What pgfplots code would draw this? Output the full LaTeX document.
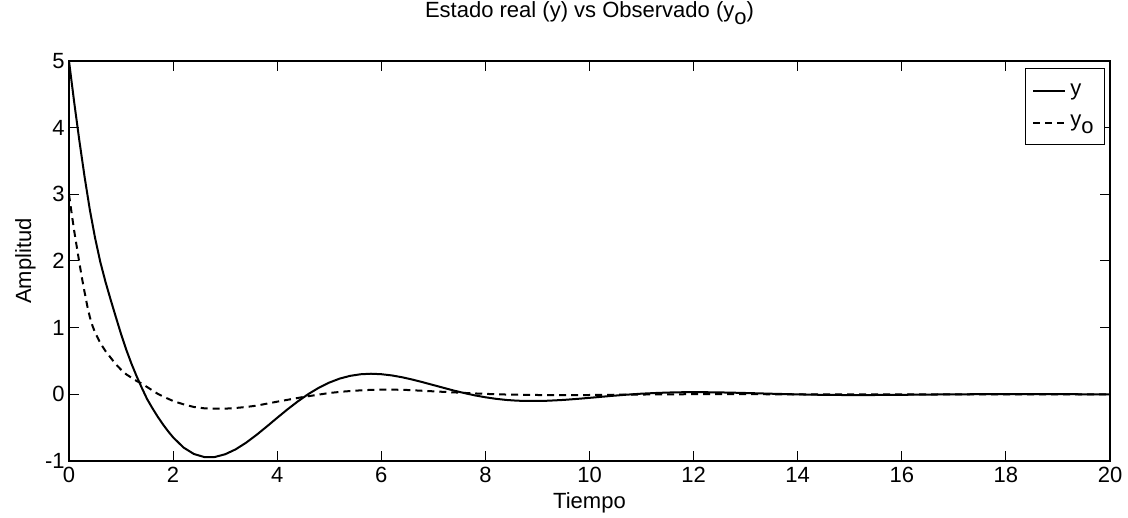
\documentclass[border=0pt]{standalone}
\usepackage{pgfplots}
\pgfplotsset{compat=1.18}
\usepackage{fontspec}
\setmainfont{Liberation Sans}

% time response of the plant output and of the observer output
\pgfplotstableread{
t y
0 5.00
0.1 4.38
0.2 3.80
0.3 3.26
0.4 2.77
0.5 2.35
0.6 1.99
0.7 1.69
0.8 1.42
0.9 1.16
1.0 0.905
1.1 0.67
1.2 0.46
1.3 0.27
1.4 0.095
1.5 -0.07
1.6 -0.205
1.7 -0.33
1.8 -0.445
1.9 -0.55
2.0 -0.645
2.2 -0.798
2.4 -0.895
2.6 -0.941
2.8 -0.940
3.0 -0.899
3.2 -0.826
3.4 -0.727
3.6 -0.610
3.8 -0.483
4.0 -0.352
4.2 -0.224
4.4 -0.104
4.6 0.005
4.8 0.099
5.0 0.176
5.2 0.236
5.4 0.277
5.6 0.301
5.8 0.309
6.0 0.302
6.2 0.284
6.4 0.256
6.6 0.221
6.8 0.181
7.0 0.139
7.2 0.097
7.4 0.055
7.6 0.018
7.8 -0.016
8.0 -0.044
8.2 -0.067
8.4 -0.084
8.6 -0.095
8.8 -0.100
9.0 -0.100
9.2 -0.096
9.5 -0.084
9.8 -0.066
10.1 -0.046
10.4 -0.025
10.7 -0.006
11.0 0.010
11.3 0.021
11.6 0.029
11.9 0.033
12.2 0.032
12.5 0.029
12.8 0.024
13.1 0.018
13.5 0.009
14.0 -0.001
14.5 -0.008
15.0 -0.011
15.5 -0.010
16.0 -0.007
16.5 -0.004
17.0 0.000
17.5 0.002
18.0 0.003
18.5 0.003
19.0 0.002
19.5 0.001
20.0 0.000
}\realstate

\pgfplotstableread{
t yo
0 3.00
0.05 2.72
0.10 2.45
0.15 2.21
0.20 1.97
0.25 1.74
0.30 1.53
0.35 1.33
0.40 1.16
0.45 1.03
0.50 0.93
0.60 0.77
0.70 0.65
0.80 0.55
0.90 0.45
1.00 0.37
1.10 0.30
1.20 0.25
1.30 0.20
1.40 0.16
1.50 0.11
1.60 0.06
1.70 0.01
1.80 -0.03
1.90 -0.065
2.00 -0.10
2.20 -0.15
2.40 -0.19
2.60 -0.21
2.80 -0.215
3.00 -0.215
3.20 -0.205
3.40 -0.19
3.60 -0.17
3.80 -0.14
4.00 -0.11
4.25 -0.075
4.50 -0.04
4.75 -0.01
5.00 0.02
5.25 0.04
5.50 0.055
5.75 0.065
6.00 0.07
6.25 0.07
6.50 0.065
6.75 0.055
7.00 0.045
7.25 0.035
7.50 0.025
7.75 0.015
8.00 0.007
8.25 0.0
8.50 -0.005
9.00 -0.01
9.50 -0.012
10.0 -0.01
10.5 -0.006
11.0 -0.003
11.5 0.0
12.0 0.002
13.0 0.002
14.0 0.0
20.0 0.0
}\observed

\begin{document}
\begin{tikzpicture}[font=\fontsize{11}{13}\selectfont]
\useasboundingbox (-34.5pt,-28.5pt) rectangle (529.5pt,230.5pt);
\begin{axis}[
  at={(0pt,0pt)}, anchor=south west,
  scale only axis,
  width=520.5pt, height=200pt,
  xmin=0, xmax=20, ymin=-1, ymax=5,
  xtick={0,2,...,20}, ytick={-1,0,...,5},
  tick align=inside,
  major tick length=5pt,
  axis line style={line width=0.7pt},
  every tick/.style={black, line width=0.5pt},
  /pgf/number format/assume math mode=true,
  xticklabel style={anchor=base, yshift=-11pt, inner sep=0pt},
  yticklabel style={anchor=east, xshift=-2pt, inner sep=0pt},
  title={Estado real (y) vs Observado (y\raisebox{-3.5pt}{o})},
  title style={at={(axis description cs:0.5,1.0775)}, anchor=base},
  xlabel={Tiempo},
  xlabel style={at={(axis description cs:0.5,-0.12)}, anchor=base},
  ylabel={Amplitud},
  ylabel style={at={(axis description cs:-0.0365,0.5)}, anchor=base, rotate=0},
  legend style={at={(axis description cs:0.9952,0.982)}, anchor=north east,
    draw=black, line width=0.5pt, inner xsep=3.5pt, inner ysep=5.5pt,
    row sep=4.5pt, font=\fontsize{11}{13}\selectfont},
  legend cell align=left,
  legend image code/.code={\draw[#1] (0pt,0pt) -- (16pt,0pt);},
]
\addplot[black, line width=1pt] table[x=t, y=y] {\realstate};
\addlegendentry{y}
\addplot[black, line width=1pt, dash pattern=on 3.5pt off 2.5pt] table[x=t, y=yo] {\observed};
\addlegendentry{y\raisebox{-3.5pt}{o}}
\end{axis}
\end{tikzpicture}
\end{document}
